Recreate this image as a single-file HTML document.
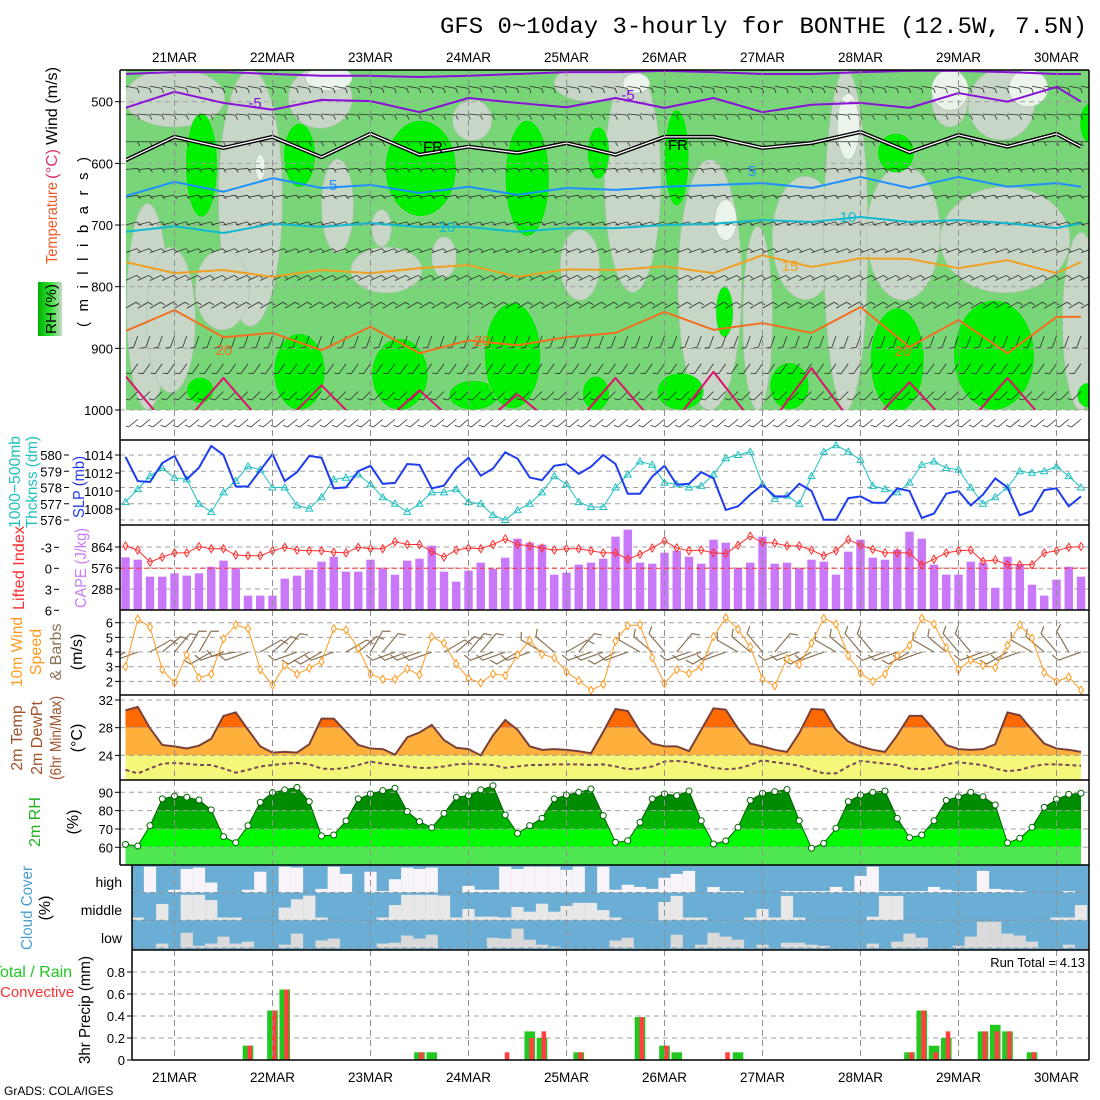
<!DOCTYPE html>
<html><head><meta charset="utf-8"><title>GFS meteogram BONTHE</title>
<style>
html,body{margin:0;padding:0;background:#fff;}
svg{display:block;font-family:"Liberation Sans",sans-serif;}
</style></head>
<body>
<svg id="chart" xmlns="http://www.w3.org/2000/svg" width="1100" height="1100" viewBox="0 0 1100 1100">
<defs>
<clipPath id="cp1"><rect x="126" y="70" width="963" height="340"/></clipPath>
<clipPath id="cp1b"><rect x="126" y="70" width="963" height="370"/></clipPath>
<clipPath id="cpUp"><rect x="120" y="440" width="969" height="425"/></clipPath>
<clipPath id="cpLow"><rect x="132" y="865" width="957" height="195"/></clipPath>
<linearGradient id="rhg" x1="0" y1="0" x2="1" y2="0"><stop offset="0" stop-color="#00b000"/><stop offset="0.5" stop-color="#30e030"/><stop offset="1" stop-color="#c8d8c8"/></linearGradient>
</defs>
<rect x="0" y="0" width="1100" height="1100" fill="#fff"/>
<text x="440" y="33" font-family="'Liberation Mono',monospace" font-size="23" textLength="647" lengthAdjust="spacingAndGlyphs">GFS 0~10day 3-hourly for BONTHE (12.5W, 7.5N)</text>
<text x="4" y="1095" font-size="12">GrADS: COLA/IGES</text>
</svg>
<script>
// ---------- data ----------
const dayLabels=['21MAR','22MAR','23MAR','24MAR','25MAR','26MAR','27MAR','28MAR','29MAR','30MAR'];
const slp=[1013.8,1011.1,1011.0,1013.1,1013.9,1011.3,1012.6,1015.0,1014.0,1010.5,1010.5,1012.3,1014.1,1011.1,1012.1,1013.9,1013.7,1010.3,1010.4,1012.2,1012.8,1010.8,1010.9,1013.0,1012.9,1010.3,1010.6,1012.5,1013.7,1011.7,1012.5,1014.3,1013.6,1011.5,1011.2,1012.8,1013.0,1011.9,1012.7,1014.0,1013.0,1009.7,1009.7,1011.6,1012.8,1010.7,1010.8,1012.1,1011.4,1007.9,1008.3,1009.6,1010.7,1009.4,1009.4,1010.8,1010.0,1006.8,1006.8,1009.2,1009.4,1008.7,1008.7,1010.3,1010.0,1007.0,1007.5,1009.7,1010.0,1008.4,1009.6,1011.4,1010.4,1007.3,1007.8,1010.1,1010.3,1008.3,1009.4];
const thick=[577.1,577.9,578.7,579.2,578.6,578.5,577.0,576.5,577.7,578.4,579.3,579.1,578.0,578.0,576.9,576.7,577.4,578.5,578.6,578.8,578.2,577.4,577.0,576.5,577.0,577.7,577.7,577.9,577.1,577.0,576.3,576.0,576.6,577.0,577.7,578.7,578.2,577.1,576.8,576.8,578.0,578.8,579.6,579.4,578.3,578.2,578.0,578.1,578.8,579.8,580.0,580.2,578.2,577.3,577.5,577.0,578.7,580.2,580.6,580.2,579.7,578.1,577.9,577.7,578.3,579.4,579.6,579.2,579.1,578.0,577.0,577.4,578.0,579.0,578.9,579.0,579.3,578.7,578.0];
const cape=[722,690,457,457,503,471,503,594,677,576,197,197,197,430,471,553,663,731,526,526,690,567,485,677,704,882,526,389,539,649,567,718,978,923,896,485,512,622,649,704,1006,1102,649,635,786,814,731,635,965,923,571,649,1006,635,649,571,690,663,485,800,965,718,690,827,1074,978,622,485,485,663,649,306,731,622,347,197,416,594,457];
const liftedIndex=[-3.2,-2.6,-0.9,-1.6,-2.2,-2.2,-3.1,-2.8,-2.8,-1.9,-1.8,-1.8,-2.5,-3.0,-2.6,-2.5,-2.5,-2.3,-2.2,-3.0,-2.8,-2.8,-3.8,-3.4,-3.4,-2.4,-1.6,-2.6,-2.9,-2.8,-3.4,-4.2,-3.4,-3.2,-2.9,-2.6,-2.8,-2.8,-2.5,-2.2,-2.2,-1.3,-2.0,-2.9,-3.9,-2.9,-2.5,-2.6,-2.2,-2.1,-3.3,-4.6,-3.7,-3.6,-3.2,-3.2,-2.6,-1.8,-2.5,-4.1,-3.3,-2.7,-2.2,-2.2,-2.2,-0.5,-1.3,-2.2,-2.5,-2.6,-1.0,-1.2,-0.5,-0.5,-0.5,-2.2,-2.5,-3.0,-3.1];
const windSpeed=[3.0,6.25,5.7,2.8,1.9,3.8,2.25,2.5,4.9,5.85,5.6,2.8,1.75,3.1,2.5,2.9,3.35,5.6,5.5,4.25,2.5,2.15,2.15,2.85,2.45,5.05,4.6,3.2,2.2,1.9,2.5,2.4,3.8,4.8,3.85,3.6,2.65,2.05,1.4,1.8,4.75,5.8,5.85,3.6,1.85,2.8,2.55,3.0,5.05,6.35,5.55,4.35,2.15,1.7,3.55,3.15,4.6,6.3,5.9,3.75,2.55,2.0,2.5,3.75,4.45,6.3,5.9,4.3,2.8,3.45,3.1,2.95,4.45,5.85,4.95,2.6,2.0,2.3,1.4];
const windDir=[240,250,60,50,40,30,30,240,250,260,250,60,50,40,250,240,240,250,60,50,30,40,250,250,250,250,60,50,40,40,250,250,240,250,300,310,60,40,250,250,240,250,300,310,320,40,250,250,240,250,300,310,320,40,250,250,240,250,300,310,320,320,250,250,240,250,300,310,320,320,250,250,240,250,300,310,320,330,250];
const temp2m=[30.5,31.0,27.9,25.5,25.3,25.0,25.4,26.4,29.7,30.2,27.7,25.3,24.4,24.5,24.4,25.6,29.3,29.3,27.4,25.5,25.0,24.9,24.1,26.6,27.3,28.4,26.2,25.1,24.9,24.0,26.9,29.1,27.7,25.3,24.8,24.9,24.8,24.6,24.3,27.4,30.7,30.4,27.5,25.7,25.3,25.3,24.6,27.7,30.8,30.6,27.9,25.7,25.3,24.8,24.5,27.2,30.7,30.6,27.7,26.0,25.3,24.8,24.5,26.9,29.7,29.7,27.7,25.5,24.9,24.8,24.9,25.6,30.2,29.8,27.7,25.7,25.0,24.8,24.5];
const dew2m=[21.9,21.4,22.1,22.8,22.9,22.8,22.6,22.6,22.1,21.5,21.9,22.4,22.6,22.8,22.9,22.7,22.1,22.0,22.2,22.6,23.1,22.8,22.6,22.4,22.2,22.2,22.4,22.7,22.8,22.7,22.6,22.2,22.4,22.6,22.6,22.7,22.7,22.7,22.6,22.7,22.4,22.0,22.1,22.4,23.1,23.2,23.0,22.6,22.2,22.0,22.1,22.6,23.3,23.0,22.8,22.5,21.9,21.4,21.4,22.4,23.2,23.0,22.8,22.6,22.1,22.0,22.2,22.7,23.0,22.8,22.6,22.1,21.7,21.9,22.4,22.7,22.7,22.6,22.5];
const rh2m=[61.6,60.7,71.8,86.4,88.0,87.3,85.8,80.4,65.8,62.5,71.8,84.5,89.8,91.3,92.7,84.9,66.2,66.7,74.4,86.4,89.1,90.9,92.2,79.5,74.0,70.7,78.5,87.3,88.2,91.3,93.6,77.6,67.6,71.8,75.8,86.4,88.5,90.0,91.8,77.3,62.7,63.6,73.6,86.4,89.1,88.2,90.7,74.5,61.8,63.5,70.9,85.6,89.5,90.4,91.5,74.5,59.5,62.2,70.4,84.9,88.5,90.0,90.7,75.8,65.3,66.7,74.5,85.6,87.6,90.0,87.6,83.1,62.4,64.9,70.9,81.8,86.2,88.9,89.5];
const cloudHigh=[0,0,93,0,10,85,90,36,0,0,10,75,0,93,90,0,13,93,67,0,75,5,48,90,85,90,0,0,24,10,10,93,85,93,93,93,82,93,0,93,10,28,20,13,53,67,78,0,20,5,5,0,0,0,5,5,5,5,20,5,60,93,5,5,5,5,20,10,5,5,78,13,10,5,0,0,0,5,0];
const cloudMid=[0,10,0,59,0,92,92,73,10,10,0,0,0,46,76,89,10,0,0,0,0,10,55,92,92,92,89,10,41,13,13,10,48,31,60,31,52,63,63,37,10,0,0,0,66,88,10,10,0,0,0,10,41,10,88,10,0,0,0,0,0,13,88,88,0,0,0,0,0,0,0,0,0,0,0,0,10,10,55];
const cloudLow=[0,0,0,16,0,55,8,16,41,16,23,0,0,12,52,0,27,34,0,0,0,16,19,45,34,48,0,0,0,0,37,34,70,30,12,5,0,0,0,0,27,37,0,0,0,48,0,12,55,41,30,0,12,0,19,19,12,8,0,0,0,16,0,23,52,37,0,0,8,41,95,95,52,45,23,0,0,12,0];
const precipTotal=[0,0,0,0,0,0,0,0,0,0,0.13,0,0.45,0.64,0,0,0,0,0,0,0,0,0,0,0.07,0.07,0,0,0,0,0,0,0,0.26,0.2,0,0,0.07,0,0,0,0,0.39,0,0.13,0.07,0,0,0,0,0.07,0,0,0,0,0,0,0,0,0,0,0,0,0,0.07,0.45,0.13,0.2,0,0,0.26,0.32,0.26,0,0.07,0,0,0,0];
const precipConv=[0,0,0,0,0,0,0,0,0,0,0.13,0,0.45,0.64,0,0,0,0,0,0,0,0,0,0,0.07,0,0,0,0,0,0,0.07,0,0.2,0.26,0,0,0.07,0,0,0,0,0.39,0,0.13,0,0,0,0,0.07,0,0,0,0,0,0,0,0,0,0,0,0,0,0,0.07,0.45,0.07,0.26,0,0,0.26,0.26,0.26,0,0.07,0,0,0,0];
// upper-air contours, sampled every 12h (time index)
const contourIdx=[0,4,8,12,16,20,24,28,32,36,40,44,48,52,56,60,64,68,72,76,78];
const isoM10=[455,452,452,455,458,458,460,458,455,452,452,450,452,455,455,452,450,450,452,455,455];
const isoM5=[510,484,502,513,497,499,517,494,502,509,494,510,494,517,505,502,510,486,500,476,500];
const isoFR=[595,557,575,557,590,552,586,573,583,567,586,557,557,575,567,549,582,554,573,552,573];
const iso5=[653,630,646,624,640,635,648,638,651,640,643,638,635,632,640,622,640,622,638,632,638];
const iso10=[711,702,713,698,703,697,703,703,711,705,705,700,698,692,695,687,695,692,697,705,697];
const iso15=[760,778,773,784,773,778,770,765,784,772,773,767,778,749,768,754,755,770,757,778,760];
const iso20=[872,838,882,875,903,865,908,887,895,882,875,841,870,859,875,833,898,854,908,849,849];
const iso25=[945,1040,948,1040,960,1040,968,1040,975,1040,948,1040,938,1040,932,1040,955,1040,948,1040,1000];
// RH shading regions [time index, pressure, half-width (steps), half-height (mb)]
const dryRegions=[[1.8,832,1.7,167],[3.7,854,2.0,118],[4.0,494,4.1,47],[10.2,656,2.6,208],[7.9,805,2.2,65],[15.9,494,2.6,49],[17.3,669,1.3,76],[20.9,705,0.8,30],[21.3,773,2.9,37],[26,752,1,33],[28.3,530,1.6,33],[41.4,627,2.3,182],[47.7,797,2.6,203],[51.6,851,1.2,149],[55.5,721,2.7,100],[58.8,724,1.8,276],[63.5,713,3,109],[67.3,494,1.5,47],[71.8,724,5.3,86],[71.5,505,2.7,57],[78,856,1.5,144],[37.1,765,1.6,57],[38,470,3,30]];
const veryDryRegions=[[16.6,462,1.9,20],[49,692,0.9,33],[59,540,0.9,54],[67.3,481,1.5,33],[73.7,478,1.6,30],[41.7,470,1.1,16],[11,606,0.4,21]];
const moistRegions=[[6.2,603,1.3,84],[14.2,587,1.3,52],[24.1,608,2.9,78],[32.8,624,1.8,94],[6.1,968,1.1,21],[14.2,938,2.1,62],[22.4,942,2.3,58],[28.4,976,2,24],[31.6,912,2.3,86],[38.6,583,0.9,42],[45,591,1,78],[62.9,583,1.5,32],[78.7,535,0.8,32],[38.4,973,1.1,28],[45.3,970,1.9,30],[54.2,961,1.6,38],[63,919,2.2,84],[70.9,911,3.3,89],[78.6,976,0.9,20],[48.9,841,0.7,41]];
const barbLevels=[475,520,565,610,655,700,745,790,835,880,925,970,1015];
const barbLevelDir=[100,95,90,85,80,75,70,65,60,200,215,225,230];
const pTicks=[500,600,700,800,900,1000];
const slpTicks=[1008,1010,1012,1014];
const thickTicks=[576,577,578,579,580];
const capeTicks=[288,576,864];
const liTicks=[-3,0,3,6];
const spdTicks=[2,3,4,5,6];
const tempTicks=[24,28,32];
const rhTicks=[60,70,80,90];
const precipTicks=[0,0.2,0.4,0.6,0.8];
const precipTickLabels=['0','0.2','0.4','0.6','0.8'];

// ---------- scales ----------
const NS='http://www.w3.org/2000/svg';
const svg=document.getElementById('chart');
function mk(tag,attrs,parent){const e=document.createElementNS(NS,tag);for(const k in attrs)e.setAttribute(k,attrs[k]);(parent||svg).appendChild(e);return e;}
function grp(name,parent,extra){const g=mk('g',extra||{},parent);


return g;}
const X=i=>125.5+12.25*i;
const dayX=d=>X(4+8*d);
const yP=p=>101.7+(p-500)*0.6166;
const ySLP=v=>455+(1014-v)*9;
const yThk=v=>455+(580-v)*16.25;
const yCape=v=>610-v*21/288;
const yLI=v=>568.3+v*7;
const ySpd=v=>622.7+(6-v)*14.67;
const yT=v=>700+(32-v)*6.92;
const yRH=v=>792.3+(90-v)*1.833;
const yPr=v=>1060-v*110;
const N=slp.length;

// ---------- panel 1: cross-section ----------
const p1=grp('cross-section-panel',svg,{'clip-path':'url(#cp1)'});
const bg1=mk('rect',{x:126,y:70,width:963,height:340,fill:'#78d678'},p1);


function regions(list,fill,name){const g=grp(name,p1);
list.forEach(r=>{const e=mk('ellipse',{cx:X(r[0]),cy:yP(r[1]),rx:r[2]*12.25,ry:r[3]*0.6166,fill:fill,stroke:'#b0c0b0','stroke-width':0.6},g);

});}
regions(dryRegions,'#c8d6c8','rh-dry-region');
regions(veryDryRegions,'#eaf4ea','rh-very-dry-region');
regions(moistRegions,'#00f000','rh-saturated-region');
// grid
const g1=grp('cross-section-grid',svg);
pTicks.forEach(p=>{const l=mk('line',{x1:120,x2:1089,y1:yP(p),y2:yP(p),stroke:'#a0a0a0','stroke-dasharray':'5,4','stroke-width':1},g1);

});
// barbs
const gb=grp('upper-wind-barbs',svg,{'clip-path':'url(#cp1b)'});
barbLevels.forEach((p,r)=>{const a=barbLevelDir[r]*Math.PI/180;for(let i=0;i<N;i++){
const x0=X(i),y0=yP(p),L=12;const x1=x0+L*Math.sin(a),y1=y0-L*Math.cos(a);
const b=a+Math.PI/3;const x2=x1+5*Math.sin(b),y2=y1-5*Math.cos(b);
const e=mk('polyline',{points:`${x0},${y0} ${x1},${y1} ${x2},${y2}`,fill:'none',stroke:'#303030','stroke-width':0.8},gb);

}});
// contours
const gc=grp('temperature-contours',svg,{'clip-path':'url(#cp1)'});
function contour(arr,color,name,w){const pts=contourIdx.map((t,k)=>X(t)+','+yP(arr[k])).join(' ');
const e=mk('polyline',{points:pts,fill:'none',stroke:color,'stroke-width':w||2,'stroke-linejoin':'round'},gc);

return pts;}
contour(isoM10,'#8a10d8','contour-minus10');
contour(isoM5,'#8a10d8','contour-minus5');
const frp=contour(isoFR,'#000','contour-freezing',4);
const frw=mk('polyline',{points:frp,fill:'none',stroke:'#fff','stroke-width':1.3},gc);


contour(iso5,'#1e90ff','contour-5c');
contour(iso10,'#10b8d0','contour-10c');
contour(iso15,'#f0a020','contour-15c');
contour(iso20,'#f07020','contour-20c');
contour(iso25,'#e0106e','contour-25c');
const clabels=[['-5',255,108,'#8a10d8'],['-5',628,100,'#8a10d8'],['FR',433,152,'#000'],['FR',678,150,'#000'],['5',333,190,'#1e90ff'],['5',752,176,'#1e90ff'],['10',447,232,'#10b8d0'],['10',848,222,'#10b8d0'],['15',790,271,'#f0a020'],['20',224,355,'#f07020'],['20',482,346,'#f07020'],['20',903,356,'#f07020']];
clabels.forEach(c=>{const t=mk('text',{x:c[1],y:c[2],fill:c[3],'font-size':15,'text-anchor':'middle'},svg);t.textContent=c[0];

});

// ---------- panel 2: SLP / thickness ----------
const p2=grp('slp-thickness-panel',svg,{'clip-path':'url(#cpUp)'});
thickTicks.forEach(v=>{const l=mk('line',{x1:120,x2:1089,y1:yThk(v),y2:yThk(v),stroke:'#a0a0a0','stroke-dasharray':'5,4'},p2);

});
const thl=mk('polyline',{points:thick.map((v,i)=>X(i)+','+yThk(v)).join(' '),fill:'none',stroke:'#20c0c0','stroke-width':1},p2);


thick.forEach((v,i)=>{const x=X(i),y=yThk(v);const m=mk('polygon',{points:`${x},${y-3.5} ${x-3.5},${y+2.5} ${x+3.5},${y+2.5}`,fill:'none',stroke:'#20c0c0','stroke-width':1},p2);

});
const sl=mk('polyline',{points:slp.map((v,i)=>X(i)+','+ySLP(v)).join(' '),fill:'none',stroke:'#1e3cf0','stroke-width':2},p2);



// ---------- panel 3: CAPE / LI ----------
const p3=grp('cape-li-panel',svg,{'clip-path':'url(#cpUp)'});
capeTicks.forEach(v=>{const l=mk('line',{x1:120,x2:1089,y1:yCape(v),y2:yCape(v),stroke:'#a0a0a0','stroke-dasharray':'5,4'},p3);

});
cape.forEach((v,i)=>{const r=mk('rect',{x:X(i)-4.2,y:yCape(v),width:8.4,height:610-yCape(v),fill:'#c878f8'},p3);

});
const li0=mk('line',{x1:120,x2:1089,y1:yLI(0),y2:yLI(0),stroke:'#ff3030','stroke-dasharray':'5,3'},p3);


const lil=mk('polyline',{points:liftedIndex.map((v,i)=>X(i)+','+yLI(v)).join(' '),fill:'none',stroke:'#ff3030','stroke-width':1},p3);


liftedIndex.forEach((v,i)=>{const x=X(i),y=yLI(v);const m=mk('polygon',{points:`${x},${y-4} ${x+2.5},${y} ${x},${y+4} ${x-2.5},${y}`,fill:'none',stroke:'#ff3030'},p3);

});

// ---------- panel 4: 10m wind ----------
const p4=grp('wind10m-panel',svg,{'clip-path':'url(#cpUp)'});
spdTicks.forEach(v=>{const l=mk('line',{x1:120,x2:1089,y1:ySpd(v),y2:ySpd(v),stroke:'#a0a0a0','stroke-dasharray':'5,4'},p4);

});
windDir.forEach((d,i)=>{const a=d*Math.PI/180,x0=X(i),y0=ySpd(4),L=24;const x1=x0+L*Math.sin(a),y1=y0-L*Math.cos(a);
const b=a+Math.PI/3;const x2=x1+8*Math.sin(b),y2=y1-8*Math.cos(b);
const e=mk('polyline',{points:`${x0},${y0} ${x1},${y1} ${x2},${y2}`,fill:'none',stroke:'#8b7355','stroke-width':1.2},p4);

});
const spl=mk('polyline',{points:windSpeed.map((v,i)=>X(i)+','+ySpd(v)).join(' '),fill:'none',stroke:'#ff9a20','stroke-width':1},p4);


windSpeed.forEach((v,i)=>{const x=X(i),y=ySpd(v);const m=mk('polygon',{points:`${x},${y-4} ${x+2.5},${y} ${x},${y+4} ${x-2.5},${y}`,fill:'#fff',stroke:'#ff9a20'},p4);

});

// ---------- panel 5: temperature ----------
const p5=grp('temperature-panel',svg,{'clip-path':'url(#cpUp)'});
const tpts=temp2m.map((v,i)=>X(i)+','+yT(v)).join(' ');
const cpT=mk('clipPath',{id:'cpTemp'},svg);
mk('polygon',{points:tpts+` ${X(N-1)},780 ${X(0)},780`},cpT);
const tfill=grp('temperature-fill',p5,{'clip-path':'url(#cpTemp)'});
const tr1=mk('rect',{x:120,y:695,width:969,height:yT(28)-695,fill:'#ff6a00'},tfill);


const tr2=mk('rect',{x:120,y:yT(28),width:969,height:yT(24)-yT(28),fill:'#ffb03c'},tfill);


const yel=mk('rect',{x:X(0),y:yT(24),width:X(N-1)-X(0),height:780-yT(24),fill:'#f4f87a'},p5);


tempTicks.forEach(v=>{const l=mk('line',{x1:120,x2:1089,y1:yT(v),y2:yT(v),stroke:'#a0a0a0','stroke-dasharray':'5,4'},p5);

});
const tl=mk('polyline',{points:tpts,fill:'none',stroke:'#7a4038','stroke-width':2},p5);


const dl=mk('polyline',{points:dew2m.map((v,i)=>X(i)+','+yT(v)).join(' '),fill:'none',stroke:'#7a4858','stroke-width':2,'stroke-dasharray':'4,3'},p5);



// ---------- panel 6: RH ----------
const p6=grp('rh-panel',svg,{'clip-path':'url(#cpUp)'});
const rpts=rh2m.map((v,i)=>X(i)+','+yRH(v)).join(' ');
const cpR=mk('clipPath',{id:'cpRH'},svg);
mk('polygon',{points:rpts+` ${X(N-1)},865 ${X(0)},865`},cpR);
const rfill=grp('rh-fill',p6,{'clip-path':'url(#cpRH)'});
[[100,80,'#008c00'],[80,70,'#00b400'],[70,60,'#00fa00']].forEach(b=>{const r=mk('rect',{x:120,y:yRH(b[0]),width:969,height:yRH(b[1])-yRH(b[0]),fill:b[2]},rfill);

});
const rlow=mk('rect',{x:X(0),y:yRH(60),width:X(N-1)-X(0),height:865-yRH(60),fill:'#50e850'},p6);


rhTicks.forEach(v=>{const l=mk('line',{x1:120,x2:1089,y1:yRH(v),y2:yRH(v),stroke:'#a0a0a0','stroke-dasharray':'5,4'},p6);

});
const rl=mk('polyline',{points:rpts,fill:'none',stroke:'#006400','stroke-width':1},p6);


rh2m.forEach((v,i)=>{const c=mk('circle',{cx:X(i),cy:yRH(v),r:3,fill:'#fff',stroke:'#006400'},p6);

});

// ---------- panel 7: clouds ----------
const p7=grp('cloud-cover-panel',svg,{'clip-path':'url(#cpLow)'});
const cbg=mk('rect',{x:132,y:865,width:957,height:85,fill:'#6aaed6'},p7);


const bands=[[cloudHigh,892.5,'#f8f4fa','high-cloud-bar'],[cloudMid,920.3,'#e8e8e8','middle-cloud-bar'],[cloudLow,948,'#dadada','low-cloud-bar']];
bands.forEach(b=>{b[0].forEach((v,i)=>{if(v<=0)return;const h=v/100*27.7;
const r=mk('rect',{x:X(i)-6.125,y:b[1]-h,width:12.25,height:h,fill:b[2]},p7);

});
const l=mk('line',{x1:132,x2:1089,y1:b[1],y2:b[1],stroke:'#909090','stroke-dasharray':'5,4'},p7);

});

// ---------- panel 8: precip ----------
const p8=grp('precip-panel',svg,{'clip-path':'url(#cpLow)'});
precipTicks.forEach(v=>{if(v===0)return;const l=mk('line',{x1:132,x2:1089,y1:yPr(v),y2:yPr(v),stroke:'#a0a0a0','stroke-dasharray':'5,4'},p8);

});
precipTotal.forEach((v,i)=>{if(v<=0)return;const r=mk('rect',{x:X(i)-5.3,y:yPr(v),width:10.6,height:1060-yPr(v),fill:'#20c820'},p8);

});
precipConv.forEach((v,i)=>{if(v<=0)return;const r=mk('rect',{x:X(i)-0.5,y:yPr(v),width:4.6,height:1060-yPr(v),fill:'#ff4040'},p8);

});
const rt=mk('text',{x:1085,y:967,'font-size':13,'text-anchor':'end'},svg);rt.textContent='Run Total = 4.13';



// ---------- vertical day grid ----------
const gv=grp('day-gridlines',svg);
dayLabels.forEach((d,k)=>{const x=dayX(k);
[[70,440],[440,1060]].forEach(s=>{const l=mk('line',{x1:x,x2:x,y1:s[0],y2:s[1],stroke:'#909090','stroke-dasharray':'6,4'},gv);

});
const t=mk('text',{x:x,y:62,'font-size':14,'text-anchor':'middle',textLength:45,lengthAdjust:'spacingAndGlyphs'},svg);t.textContent=d;


const t2=mk('text',{x:x,y:1082,'font-size':14,'text-anchor':'middle',textLength:45,lengthAdjust:'spacingAndGlyphs'},svg);t2.textContent=d;

});

// ---------- frames ----------
const gf=grp('panel-frames',svg);
[[120,70,1089,70],[120,70,120,865],[1089,70,1089,1060],[120,440,1089,440],[120,525,1089,525],[120,610,1089,610],[120,695,1089,695],[120,780,1089,780],[120,865,1089,865],[132,865,132,1060],[132,950,1089,950],[132,1060,1089,1060]].forEach(s=>{
const l=mk('line',{x1:s[0],y1:s[1],x2:s[2],y2:s[3],stroke:'#000','stroke-width':1.5},gf);

});

// ---------- tick labels ----------
function ticks(vals,yf,x,labels,name){vals.forEach((v,k)=>{const y=yf(v);
const tk=mk('line',{x1:x+2,x2:x+7,y1:y,y2:y,stroke:'#000'},svg);


const t=mk('text',{x:x,y:y+5,'font-size':13,'text-anchor':'end'},svg);t.textContent=labels?labels[k]:String(v);

});}
ticks(pTicks,yP,113,null,'pressure');
ticks(thickTicks,yThk,62,null,'thickness');
ticks(slpTicks,ySLP,113,null,'slp');
ticks(liTicks,yLI,52,null,'lifted-index');
ticks(capeTicks,yCape,113,null,'cape');
ticks(spdTicks,ySpd,113,null,'wind-speed');
ticks(tempTicks,yT,113,null,'temperature');
ticks(rhTicks,yRH,113,null,'rh');
ticks(precipTicks,yPr,125,precipTickLabels,'precip');
[['high',887],['middle',915],['low',943]].forEach(c=>{const t=mk('text',{x:122,y:c[1],'font-size':14,'text-anchor':'end'},svg);t.textContent=c[0];

});

// ---------- axis titles ----------
function vtext(str,x,yc,color,size,name,len,spacingOnly){const t=mk('text',{x:x,y:yc,fill:color,'font-size':size,'text-anchor':'middle',transform:`rotate(-90 ${x} ${yc})`},svg);
if(len){t.setAttribute('textLength',len);t.setAttribute('lengthAdjust',spacingOnly?'spacing':'spacingAndGlyphs');}
t.textContent=str;

return t;}
vtext('Wind (m/s)',57,106,'#000',16,'wind-axis-title',78);
vtext('(°C)',57,164,'#e03070',16,'temperature-unit-title',30);
vtext('Temperature',57,223,'#f05a28',16,'temperature-axis-title',82);
const rhbox=mk('rect',{x:38,y:282,width:24,height:54,fill:'url(#rhg)'},svg);


vtext('RH (%)',56,309,'#000',15,'rh-axis-title',50);
vtext('(millibars)',88,242,'#000',15,'pressure-axis-title',170,true);
vtext('1000−500mb',20,482,'#20c0c0',16,'thickness-axis-title',92);
vtext('Thcknss (dm)',37,482,'#20c0c0',16,'thickness-unit-title',92);
vtext('SLP (mb)',84,487,'#1e3cf0',16,'slp-axis-title',62);
vtext('Lifted Index',24,568,'#ff3030',16,'lifted-index-axis-title',84);
vtext('CAPE (J/kg)',86,568,'#c878f8',16,'cape-axis-title',80);
vtext('10m Wind',22,652,'#ff9a20',16,'wind10m-axis-title',70);
vtext('Speed',41,652,'#ff9a20',16,'speed-axis-title');
vtext('& Barbs',61,652,'#8b7355',16,'barbs-axis-title');
vtext('(m/s)',82,652,'#000',16,'speed-unit-title');
vtext('2m Temp',22,738,'#a0522d',16,'temp2m-axis-title');
vtext('2m DewPt',42,738,'#a0522d',16,'dewpoint-axis-title');
vtext('(6hr Min/Max)',61,738,'#a0522d',16,'minmax-axis-title',84);
vtext('(°C)',82,738,'#000',16,'temp-unit-title');
vtext('2m RH',40,822,'#20b020',16,'rh2m-axis-title');
vtext('(%)',78,822,'#000',16,'rh-unit-title');
vtext('Cloud Cover',32,908,'#4a9fd0',16,'cloud-axis-title',84);
vtext('(%)',50,908,'#000',16,'cloud-unit-title');
vtext('3hr Precip (mm)',90,1010,'#000',16,'precip-axis-title',108);
const tr=mk('text',{x:-8,y:977,fill:'#20c820','font-size':16},svg);tr.textContent='Total / Rain';


const cv=mk('text',{x:0,y:997,fill:'#ff3030','font-size':15},svg);cv.textContent='Convective';


</script>
</body></html>
